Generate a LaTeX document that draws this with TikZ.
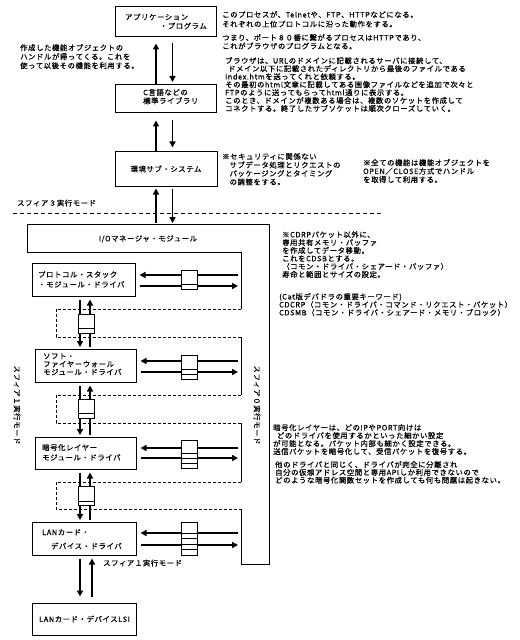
\documentclass[tikz,border=0pt]{standalone}
\usepackage{fontspec}
\setmainfont{Noto Sans CJK JP}[LetterSpace=8, FakeBold=0.5]
\usetikzlibrary{arrows.meta}
\begin{document}
\begin{tikzpicture}[x=1bp,y=-1bp,
  every node/.style={font=\fontsize{7.4}{8}\selectfont},
  box/.style={draw, line width=1bp, inner sep=0pt, align=center},
  lbl/.style={anchor=north west, align=left, inner sep=0pt},
  arr/.style={line width=1.7bp, -{Triangle[length=6bp,width=6bp]}},
  pkt/.style={draw, fill=white, line width=0.8bp, inner sep=0pt, minimum width=16bp},
  frame/.style={line width=1bp},
  dsh/.style={line width=0.8bp, dash pattern=on 3bp off 2bp},
  dsh3/.style={line width=0.8bp, dash pattern=on 4bp off 3bp}]
\useasboundingbox (0,0) rectangle (520,640);

% ---------------- upper boxes ----------------
\node[box, minimum width=101bp, minimum height=30bp] (app) at (165.5,22) {};
\node[lbl, font=\fontsize{7.4}{9}\selectfont] (tapp) at (125,13.5) {アプリケーション\\\hspace*{4.7em}・プログラム};
\node[box, minimum width=101bp, minimum height=28bp] (clib) at (165.5,99) {};
\node[lbl, font=\fontsize{7.4}{8.5}\selectfont] (tclib) at (143,89) {C言語などの\\標準ライブラリ};
\node[box, minimum width=102bp, minimum height=34bp] (env) at (166,169) {環境サブ・システム};

\coordinate (xu) at (156,0);
\coordinate (xd) at (172.5,0);
\draw[arr, shorten >=6bp] (clib.north -| xu) -- (app.south -| xu);
\draw[arr, shorten <=6bp, shorten >=2.5bp] (app.south -| xd) -- (clib.north -| xd);
\draw[arr, shorten >=7bp] (env.north -| xu) -- (clib.south -| xu);
\draw[arr, shorten <=7bp, shorten >=4bp] (clib.south -| xd) -- (env.north -| xd);
\coordinate (iotop) at (165,224);
\draw[arr, shorten <=1bp, shorten >=2bp] (iotop -| xu) -- (env.south -| xu);
\draw[arr, shorten <=2bp, shorten >=1bp] (env.south -| xd) -- (iotop -| xd);

% sphere 3 boundary
\draw[dsh3] (13,213) -- (383,213);
\node[anchor=west, inner sep=0pt] (s3) at (17,203) {スフィア３実行モード};

% ---------------- I/O manager frame ----------------
\draw[frame] (27,252) -- (27,224) -- (269,224) -- (269,564) -- (241,564) -- (241,509);
\draw[frame] (27,252) -- (241,252) -- (241,309);
\draw[dsh] (241,309) -- (56,309) -- (56,337) -- (241,337);
\draw[frame] (241,337) -- (241,395);
\draw[dsh] (241,395) -- (56,395) -- (56,423) -- (241,423);
\draw[frame] (241,423) -- (241,482);
\draw[dsh] (241,482) -- (56,482) -- (56,509) -- (241,509);
\node (iomgr) at (148,239) {I/Oマネージャ・モジュール};

\node[rotate=-90, inner sep=0pt] (s1v) at (17,405) {スフィア１実行モード};
\node[rotate=-90, inner sep=0pt] (s0v) at (257,405) {スフィア０実行モード};

% ---------------- driver boxes ----------------
\node[box, minimum width=102bp, minimum height=33bp] (proto) at (84,279.5) {};
\node[lbl, font=\fontsize{7.4}{10}\selectfont] (tproto) at (38,271) {プロトコル・スタック\\・モジュール・ドライバ};
\node[box, minimum width=101bp, minimum height=33bp] (fw) at (85.5,365.5) {};
\node[lbl, font=\fontsize{7.4}{8}\selectfont] (tfw) at (43,353) {ソフト・\\ファイヤーウォール\\モジュール・ドライバ};
\node[box, minimum width=101bp, minimum height=32bp] (enc) at (85.5,453) {};
\node[lbl, font=\fontsize{7.4}{10}\selectfont] (tenc) at (42,444) {暗号化レイヤー\\モジュール・ドライバ};
\node[box, minimum width=103bp, minimum height=33bp] (lan) at (84.5,538.5) {};
\node[lbl, font=\fontsize{7.4}{14}\selectfont] (tlan) at (42,529) {LANカード・\\\hspace*{1.2em}デバイス・ドライバ};
\node[box, minimum width=103bp, minimum height=32bp] (lsi) at (84.5,619) {LANカード・デバイスLSI};

% horizontal arrows to/from I/O manager
\foreach \n/\ya/\yb in {proto/275/286, fw/361/372, enc/448/458, lan/533/545}{
  \coordinate (\n-ia) at (238,\ya);
  \coordinate (\n-ib) at (238,\yb);
  \draw[arr, shorten >=4bp] (\n-ia) -- (\n.east |- \n-ia);
  \draw[arr, shorten <=4bp] (\n.east |- \n-ib) -- (\n-ib);
}

% vertical arrows between drivers
\coordinate (xa) at (80,0);
\coordinate (xb) at (90,0);
\foreach \p/\q in {proto/fw, fw/enc, enc/lan}{
  \draw[arr, shorten <=3bp, shorten >=1.5bp] (\p.south -| xa) -- (\q.north -| xa);
  \draw[arr, shorten <=1.5bp, shorten >=3bp] (\q.north -| xb) -- (\p.south -| xb);
}
\coordinate (xc) at (92,0);
\draw[arr, shorten <=3bp, shorten >=6bp] (lan.south -| xa) -- (lsi.north -| xa);
\draw[arr, shorten <=6bp, shorten >=3bp] (lsi.north -| xc) -- (lan.south -| xc);
\node[anchor=west, inner sep=0pt] (s1l) at (103,563) {スフィア１実行モード};

% packets (vertical path)
\foreach \nm/\yy in {vp1/323.5, vp2/408.5, vp3/496}{
  \node[pkt, minimum height=19bp] (\nm) at (86,\yy) {};
  \draw[line width=0.8bp] ([yshift=5bp]\nm.south west) -- ([yshift=5bp]\nm.south east);
}
% packets (horizontal path)
\node[pkt, minimum height=19bp] (hp1) at (189,279.5) {};
\draw[line width=0.8bp] ([yshift=5bp]hp1.south west) -- ([yshift=5bp]hp1.south east);
\node[pkt, minimum height=24bp] (hp2) at (189.5,367) {};
\foreach \s in {5,10}{\draw[line width=0.8bp] ([yshift=\s bp]hp2.south west) -- ([yshift=\s bp]hp2.south east);}
\node[pkt, minimum height=28bp] (hp3) at (189,454) {};
\foreach \s in {5,10,15}{\draw[line width=0.8bp] ([yshift=\s bp]hp3.south west) -- ([yshift=\s bp]hp3.south east);}
\node[pkt, minimum height=33bp] (hp4) at (189,538.5) {};
\foreach \s in {6,11,17,22}{\draw[line width=0.8bp] ([yshift=\s bp]hp4.south west) -- ([yshift=\s bp]hp4.south east);}

% ---------------- annotations ----------------
\node[lbl, font=\fontsize{7.4}{9.5}\selectfont] (n1) at (222,11) {このプロセスが、Telnetや、FTP、HTTPなどになる。\\それぞれの上位プロトコルに沿った動作をする。};
\node[lbl, font=\fontsize{7.4}{8.5}\selectfont] (n2) at (222,34) {つまり、ポート８０番に繋がるプロセスはHTTPであり、\\これがブラウザのプログラムとなる。};
\node[lbl, font=\fontsize{7.4}{8}\selectfont] (n3) at (225,57) {ブラウザは、URLのドメインに記載されるサーバに接続して、\\\hspace*{0.4em}ドメイン以下に記載されたディレクトリから最後のファイルである\\index.htmを送ってくれと依頼する。\\その最初のhtml文章に記載してある画像ファイルなどを追加で次々と\\FTPのように送ってもらってhtml通りに表示する。\\このとき、ドメインが複数ある場合は、複数のソケットを作成して\\コネクトする。終了したサブソケットは順次クローズしていく。};
\node[lbl, font=\fontsize{7.4}{9}\selectfont] (n4) at (20,44) {作成した機能オブジェクトの\\ハンドルが帰ってくる。これを\\使って以後その機能を利用する。};
\node[lbl, font=\fontsize{7.4}{8.5}\selectfont] (n5) at (222,153) {※セキュリティに関係ない\\\hspace*{1em}サブデータ処理とリクエストの\\\hspace*{1em}パッケージングとタイミング\\\hspace*{1em}の調整をする。};
\node[lbl, font=\fontsize{7.4}{8.5}\selectfont] (n6) at (363,159) {※全ての機能は機能オブジェクトを\\OPEN／CLOSE方式でハンドル\\を取得して利用する。};
\node[lbl, font=\fontsize{7.4}{8}\selectfont] (n7) at (282,231) {※CDRPパケット以外に、\\専用共有メモリ・バッファ\\を作成してデータ移動。\\これをCDSBとする。\\（コモン・ドライバ・シェアード・バッファ）\\寿命と範囲とサイズの設定。};
\node[lbl, font=\fontsize{7.4}{8}\selectfont] (n8) at (279,293) {(Cat版デバドラの重要キーワード)\\CDCRP（コモン・ドライバ・コマンド・リクエスト・パケット）\\CDSMB（コモン・ドライバ・シェアード・メモリ・ブロック）};
\node[lbl, font=\fontsize{7.4}{8}\selectfont] (n9) at (273,424) {暗号化レイヤーは、どのIPやPORT向けは\\\hspace*{0.5em}どのドライバを使用するかといった細かい設定\\が可能となる。パケット内部も細かく設定できる。\\送信パケットを暗号化して、受信パケットを復号する。};
\node[lbl, font=\fontsize{7.4}{7.8}\selectfont] (n10) at (275,461) {他のドライバと同じく、ドライバが完全に分離され\\自分の仮想アドレス空間と専用APIしか利用できないので\\どのような暗号化関数セットを作成しても何も問題は起きない。};
\end{tikzpicture}
\end{document}
